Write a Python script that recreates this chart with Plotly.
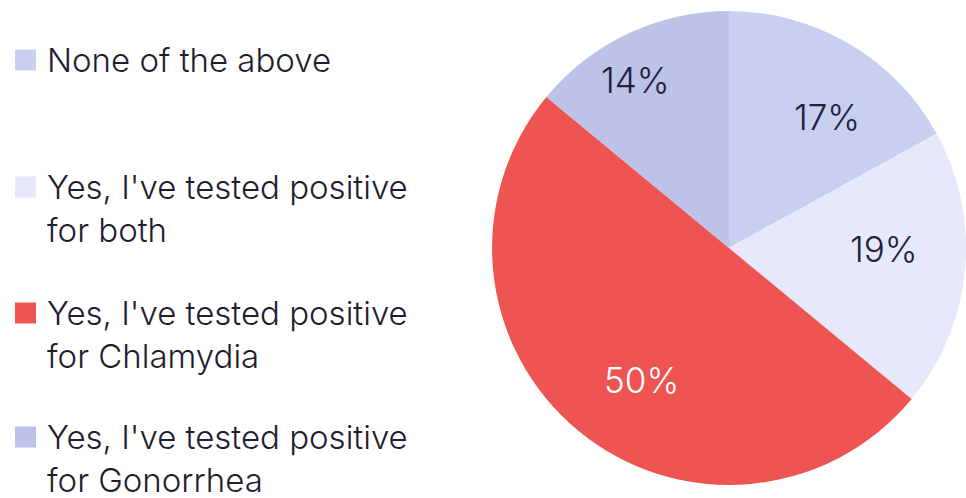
import math
import plotly.graph_objects as go

# Survey responses, in clockwise order starting at 12 o'clock
labels = [
    "None of the above",
    "Yes, I've tested positive<br>for both",
    "Yes, I've tested positive<br>for Chlamydia",
    "Yes, I've tested positive<br>for Gonorrhea",
]
values = [17, 19, 50, 14]
colors = ["#C9CFF0", "#E5E9FB", "#EE5451", "#BCC2E8"]
text_colors = ["#22203A", "#22203A", "#FFFFFF", "#22203A"]

# Placement of the percentage labels inside each slice:
# angular nudge from the slice's mid-angle (deg) and distance as a fraction of the radius
label_nudge = [6, -5, -6, -4]
label_radius = [0.69, 0.655, 0.67, 0.81]

FONT = "Inter"
INK = "#1F1D30"
W, H = 966, 498

# Pie geometry in pixels
CX, CY, R = 729, 248, 237

fig = go.Figure(
    go.Pie(
        labels=labels,
        values=values,
        sort=False,
        direction="clockwise",
        rotation=0,
        marker=dict(colors=colors, line=dict(width=0)),
        textinfo="none",
        showlegend=False,
        hoverinfo="label+percent",
        domain=dict(x=[(CX - R) / W, min(1.0, (CX + R) / W)],
                    y=[(H - CY - R) / H, (H - CY + R) / H]),
    )
)

# Percentage labels, positioned from each slice's share of the total
total = sum(values)
cum = 0
for v, tc, nudge, rf in zip(values, text_colors, label_nudge, label_radius):
    mid = (cum + v / 2) / total * 360 + nudge
    cum += v
    a = math.radians(mid)
    px = CX + rf * R * math.sin(a)
    py = CY - rf * R * math.cos(a)
    fig.add_annotation(
        xref="paper", yref="paper", x=px / W, y=(H - py) / H,
        xanchor="center", yanchor="middle", showarrow=False,
        text=f"{v}%",
        font=dict(family=FONT, size=35, color=tc, weight=300),
    )

# Legend drawn on the left: colour square + wrapped label
legend_rows = [60, 187, 313, 437]  # vertical centre of first text line (px from top)
for lab, col, yc in zip(labels, colors, legend_rows):
    fig.add_shape(
        type="rect", xref="paper", yref="paper",
        x0=15 / W, x1=36 / W,
        y0=(H - yc - 10.5) / H, y1=(H - yc + 10.5) / H,
        fillcolor=col, line=dict(width=0),
    )
    fig.add_annotation(
        xref="paper", yref="paper",
        x=45 / W, y=(H - yc + 22) / H,
        xanchor="left", yanchor="top",
        text=lab, showarrow=False, align="left",
        font=dict(family=FONT, size=33, color=INK, weight=300),
    )

fig.update_layout(
    width=W, height=H,
    margin=dict(l=0, r=0, t=0, b=0),
    paper_bgcolor="white", plot_bgcolor="white",
)

fig.write_html("out.html")
